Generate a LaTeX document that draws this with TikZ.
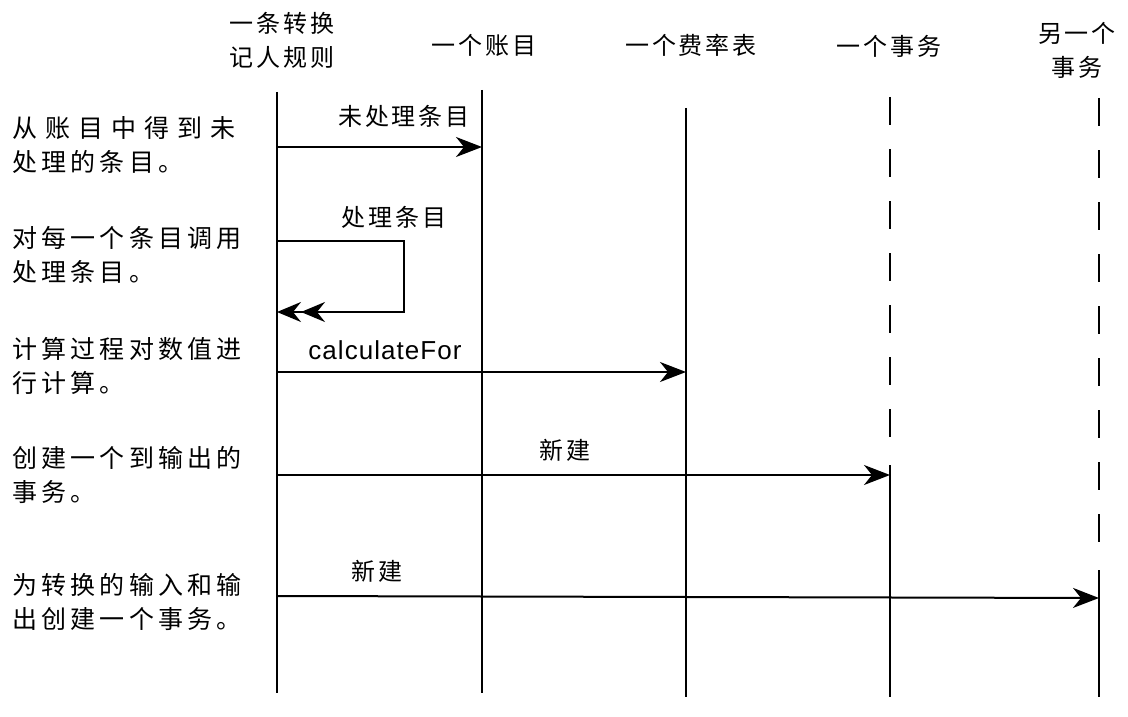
\documentclass[tikz,border=0pt]{standalone}
\usepackage{fontspec}
\setmainfont{Liberation Sans}
\newfontfamily\cjk[LetterSpace=12]{Noto Sans CJK SC}
\newfontfamily\cjkw[LetterSpace=17]{Noto Sans CJK SC}
\newfontfamily\cjkww[LetterSpace=32]{Noto Sans CJK SC}
\newfontfamily\latn[LetterSpace=4]{Liberation Sans}
\usetikzlibrary{arrows.meta}
\tikzset{
  txt/.style={font=\fontsize{24}{34}\selectfont\cjk, inner sep=0pt},
  lefttxt/.style={font=\fontsize{25}{34}\selectfont\cjkw, inner sep=0pt, anchor=west, align=left},
  head/.style={txt, align=center},
  lbl/.style={txt},
  life/.style={line width=2.4pt},
  dashlife/.style={line width=2.4pt, dash pattern=on 28pt off 24pt},
  msg/.style={line width=2pt, -{Stealth[length=26pt,width=20pt,inset=8pt]}},
  selfmsg/.style={line width=2pt, -{Stealth[length=24pt,width=20pt,inset=8pt]Stealth[length=24pt,width=20pt,inset=8pt]}},
}
\begin{document}
\begin{tikzpicture}[x=1pt,y=-1pt]
\useasboundingbox (0,0) rectangle (1128,717);
% headers
\node[head] (h1) at (282,40) {一条转换\\记人规则};
\node[head] (h2) at (484,45) {一个账目};
\node[head] (h3) at (691,45) {一个费率表};
\node[head] (h4) at (889,46) {一个事务};
\node[head] (h5) at (1077,50) {另一个\\事务};
% lifelines
\coordinate (l1t) at (277,92);  \coordinate (l1b) at (277,693);
\coordinate (l2t) at (482,90);  \coordinate (l2b) at (482,693);
\coordinate (l3t) at (686,108); \coordinate (l3b) at (686,697);
\coordinate (l4t) at (890,97);  \coordinate (l4m) at (890,440);
\coordinate (l4s) at (890,465); \coordinate (l4b) at (890,697);
\coordinate (l5t) at (1099,98); \coordinate (l5m) at (1099,545);
\coordinate (l5s) at (1099,570); \coordinate (l5b) at (1099,697);
\draw[life] (l1t) -- (l1b);
\draw[life] (l2t) -- (l2b);
\draw[life] (l3t) -- (l3b);
\draw[dashlife] (l4t) -- (l4m);
\draw[life] (l4s) -- (l4b);
\draw[dashlife] (l5t) -- (l5m);
\draw[life] (l5s) -- (l5b);
% left notes
\node[lefttxt] (n1) at (12,145) {{\cjkww 从账目中得到未}\\处理的条目。};
\node[lefttxt] (n2) at (12,255) {对每一个条目调用\\处理条目。};
\node[lefttxt] (n3) at (12,366) {计算过程对数值进\\行计算。};
\node[lefttxt] (n4) at (12,475) {创建一个到输出的\\事务。};
\node[lefttxt] (n5) at (12,602) {为转换的输入和输\\出创建一个事务。};
% messages
\coordinate (m1a) at (277,147); \coordinate (m1b) at (482,147);
\draw[msg] (m1a) -- (m1b);
\node[lbl] (t1) at (404,116) {未处理条目};
\coordinate (m2a) at (277,241); \coordinate (m2b) at (404,241);
\coordinate (m2c) at (404,312); \coordinate (m2d) at (277,312);
\draw[selfmsg] (m2a) -- (m2b) -- (m2c) -- (m2d);
\node[lbl] (t2) at (394,217) {处理条目};
\coordinate (m3a) at (277,372); \coordinate (m3b) at (686,372);
\draw[msg] (m3a) -- (m3b);
\node[inner sep=0pt, font=\fontsize{26}{30}\selectfont\latn] (t3) at (385,350) {calculateFor};
\coordinate (m4a) at (277,475); \coordinate (m4b) at (890,475);
\draw[msg] (m4a) -- (m4b);
\node[lbl] (t4) at (565,450) {新建};
\coordinate (m5a) at (277,596); \coordinate (m5b) at (1099,598);
\draw[msg] (m5a) -- (m5b);
\node[lbl] (t5) at (377,571) {新建};
\end{tikzpicture}
\end{document}
